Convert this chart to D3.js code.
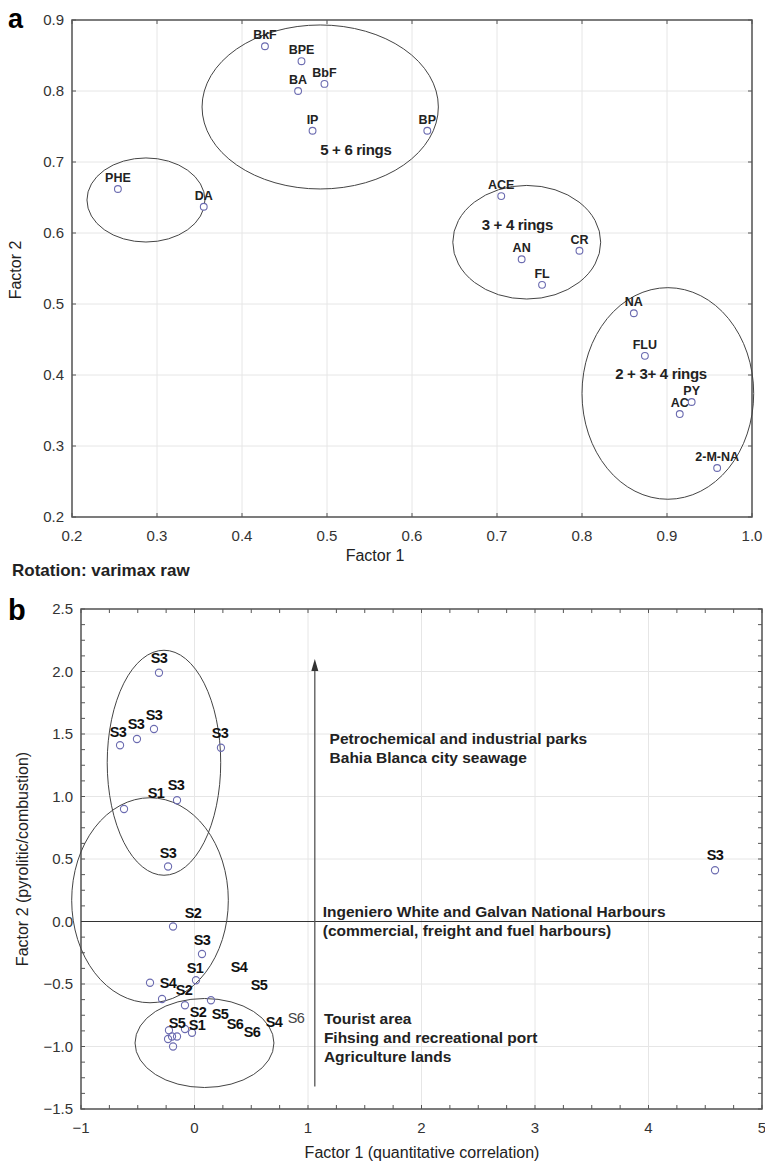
<!DOCTYPE html>
<html>
<head>
<meta charset="utf-8">
<script src="https://cdn.jsdelivr.net/npm/d3@7"></script>
<style>
  body { margin: 0; background: #fff; }
  svg { display: block; font-family: "Liberation Sans", Arial, sans-serif; }
</style>
</head>
<body>
<svg id="chart" width="765" height="1169"></svg>
<script>
// ---- panel a: PAH loadings ----
const pahNames = ["BkF", "BPE", "BA", "BbF", "IP", "BP", "PHE", "DA", "ACE", "AN", "CR", "FL", "NA", "FLU", "PY", "AC", "2-M-NA"];
const pahF1 = [0.427, 0.470, 0.466, 0.497, 0.483, 0.618, 0.254, 0.355, 0.705, 0.729, 0.797, 0.753, 0.861, 0.874, 0.929, 0.915, 0.959];
const pahF2 = [0.863, 0.842, 0.800, 0.810, 0.744, 0.744, 0.662, 0.637, 0.652, 0.563, 0.575, 0.527, 0.487, 0.427, 0.362, 0.345, 0.269];
const aTicksX = [0.2, 0.3, 0.4, 0.5, 0.6, 0.7, 0.8, 0.9, 1.0];
const aTicksY = [0.2, 0.3, 0.4, 0.5, 0.6, 0.7, 0.8, 0.9];
// group ellipses: centre x, centre y, radius x, radius y (data units)
const aGroupCx = [0.287, 0.492, 0.735, 0.901];
const aGroupCy = [0.6465, 0.7775, 0.587, 0.374];
const aGroupRx = [0.0694, 0.139, 0.087, 0.101];
const aGroupRy = [0.0592, 0.1155, 0.080, 0.149];
const aGroupText = ["", "5 + 6 rings", "3 + 4 rings", "2 + 3+ 4 rings"];
const aGroupTextX = [0, 0.492, 0.682, 0.839];
const aGroupTextY = [0, 0.71, 0.604, 0.394];

// ---- panel b: sample scores ----
const siteF1 = [-0.313, -0.656, -0.507, -0.357, 0.233, -0.621, -0.154, -0.233, 4.586,
  -0.189, 0.066, 0.013, -0.392, -0.286, -0.084, 0.145,
  -0.022, -0.084, -0.225, -0.198, -0.233, -0.189, -0.154];
const siteF2 = [1.99, 1.41, 1.46, 1.54, 1.39, 0.90, 0.97, 0.44, 0.41,
  -0.04, -0.26, -0.47, -0.49, -0.62, -0.67, -0.63,
  -0.89, -0.86, -0.87, -0.92, -0.94, -1.00, -0.92];
const siteLabels = ["S3", "S3", "S3", "S3", "S3", "S1", "S3", "S3", "S3",
  "S2", "S3", "S1", "S4", "S4", "S2", "S5",
  "S5", "S2", "S1", "S5", "S6", "S6", "S4", "S6"];
const siteLabelX = [-0.313, -0.674, -0.515, -0.357, 0.225, -0.339, -0.163, -0.233, 4.586,
  -0.013, 0.066, 0.004, 0.392, -0.233, -0.092, 0.568,
  -0.154, 0.031, 0.022, 0.225, 0.357, 0.507, 0.700, 0.894];
const siteLabelY = [2.11, 1.52, 1.58, 1.65, 1.51, 1.03, 1.09, 0.55, 0.53,
  0.07, -0.15, -0.37, -0.36, -0.49, -0.55, -0.51,
  -0.81, -0.72, -0.83, -0.74, -0.82, -0.88, -0.80, -0.77];
const siteLabelGrey = [false, false, false, false, false, false, false, false, false,
  false, false, false, false, false, false, false,
  false, false, false, false, false, false, false, true];
const bTicksX = [-1, 0, 1, 2, 3, 4, 5];
const bTicksY = [-1.5, -1.0, -0.5, 0.0, 0.5, 1.0, 1.5, 2.0, 2.5];
const bGroupCx = [-0.269, -0.392, 0.088];
const bGroupCy = [1.27, 0.17, -0.972];
const bGroupRx = [0.50, 0.69, 0.612];
const bGroupRy = [0.90, 0.82, 0.356];
const sourceText = [
  ["Petrochemical and industrial parks", "Bahia Blanca city seawage"],
  ["Ingeniero White and Galvan National Harbours", "(commercial, freight and fuel harbours)"],
  ["Tourist area", "Fihsing and recreational port", "Agriculture lands"]
];
const sourceX = [1.19, 1.13, 1.14];
const sourceY = [1.42, 0.04, -0.82];
const arrowX = 1.06, arrowTop = 2.1, arrowBottom = -1.32;

const svg = d3.select("#chart");
svg.append("rect").attr("width", 765).attr("height", 1169).attr("fill", "#fff");

const axisColor = "#555";
const gridColor = "#e6e6e6";
const circleColor = "#6b6bb0";

function frame(g, x, y, ticksX, ticksY, fmtX, fmtY, minorX, minorY) {
  const [x0, x1] = x.range();
  const [y0, y1] = y.range();
  // grid
  g.append("g").selectAll("line").data(ticksX).join("line")
    .attr("x1", d => x(d)).attr("x2", d => x(d)).attr("y1", y0).attr("y2", y1)
    .attr("stroke", gridColor);
  g.append("g").selectAll("line").data(ticksY).join("line")
    .attr("y1", d => y(d)).attr("y2", d => y(d)).attr("x1", x0).attr("x2", x1)
    .attr("stroke", gridColor);
  // inward ticks on all four sides
  const tx = minorX || ticksX, ty = minorY || ticksY;
  g.append("g").selectAll("path").data(tx).join("path")
    .attr("d", d => `M${x(d)},${y0}v-4M${x(d)},${y1}v4`)
    .attr("stroke", axisColor);
  g.append("g").selectAll("path").data(ty).join("path")
    .attr("d", d => `M${x0},${y(d)}h4M${x1},${y(d)}h-4`)
    .attr("stroke", axisColor);
  g.append("rect")
    .attr("x", x0).attr("y", y1).attr("width", x1 - x0).attr("height", y0 - y1)
    .attr("fill", "none").attr("stroke", axisColor).attr("stroke-width", 1.5);
  // tick labels
  g.append("g").selectAll("text").data(ticksX).join("text")
    .attr("x", d => x(d)).attr("y", y0 + 24)
    .attr("text-anchor", "middle").attr("font-size", 15).attr("fill", "#333")
    .text(fmtX);
  g.append("g").selectAll("text").data(ticksY).join("text")
    .attr("x", x0 - 8).attr("y", d => y(d) + 5)
    .attr("text-anchor", "end").attr("font-size", 15).attr("fill", "#333")
    .text(fmtY);
}

// ================= panel a =================
const xa = d3.scaleLinear().domain([0.2, 1.0]).range([72, 752]);
const ya = d3.scaleLinear().domain([0.2, 0.9]).range([517, 20]);
const ga = svg.append("g");
frame(ga, xa, ya, aTicksX, aTicksY, d3.format(".1f"), d3.format(".1f"));

ga.append("g").selectAll("ellipse").data(aGroupCx).join("ellipse")
  .attr("cx", d => xa(d)).attr("cy", (d, i) => ya(aGroupCy[i]))
  .attr("rx", (d, i) => xa(d + aGroupRx[i]) - xa(d))
  .attr("ry", (d, i) => ya(aGroupCy[i] - aGroupRy[i]) - ya(aGroupCy[i]))
  .attr("fill", "none").attr("stroke", "#444").attr("stroke-width", 1);

ga.append("g").selectAll("text").data(aGroupText).join("text")
  .attr("x", (d, i) => xa(aGroupTextX[i])).attr("y", (d, i) => ya(aGroupTextY[i]))
  .attr("font-size", 15).attr("font-weight", "bold").attr("fill", "#222")
  .attr("letter-spacing", -0.3)
  .text(d => d);

ga.append("g").selectAll("circle").data(pahF1).join("circle")
  .attr("cx", d => xa(d)).attr("cy", (d, i) => ya(pahF2[i])).attr("r", 3.4)
  .attr("fill", "#fff").attr("stroke", circleColor).attr("stroke-width", 1.1);

ga.append("g").selectAll("text").data(pahNames).join("text")
  .attr("x", (d, i) => xa(pahF1[i])).attr("y", (d, i) => ya(pahF2[i]) - 7)
  .attr("text-anchor", "middle").attr("font-size", 12.5).attr("font-weight", "bold")
  .attr("fill", "#222").text(d => d);

svg.append("text").attr("x", 8).attr("y", 28)
  .attr("font-size", 27).attr("font-weight", "bold").text("a");
svg.append("text").attr("transform", "translate(21,270) rotate(-90)")
  .attr("text-anchor", "middle").attr("font-size", 16).attr("fill", "#222").text("Factor 2");
svg.append("text").attr("x", 375).attr("y", 561)
  .attr("text-anchor", "middle").attr("font-size", 16).attr("fill", "#222").text("Factor 1");
svg.append("text").attr("x", 12).attr("y", 576)
  .attr("font-size", 17).attr("font-weight", "bold").attr("fill", "#222")
  .text("Rotation: varimax raw");

// ================= panel b =================
const xb = d3.scaleLinear().domain([-1, 5]).range([81, 762]);
const yb = d3.scaleLinear().domain([-1.5, 2.5]).range([1109, 609]);
const gb = svg.append("g");
frame(gb, xb, yb, bTicksX, bTicksY, d3.format("d"), d3.format(".1f"),
  d3.range(-1, 5.001, 0.25), d3.range(-1.5, 2.5001, 0.125));

// zero line
gb.append("line")
  .attr("x1", xb(-1)).attr("x2", xb(5)).attr("y1", yb(0)).attr("y2", yb(0))
  .attr("stroke", "#333").attr("stroke-width", 1.2);

// arrow
gb.append("line")
  .attr("x1", xb(arrowX)).attr("x2", xb(arrowX))
  .attr("y1", yb(arrowBottom)).attr("y2", yb(arrowTop) + 8)
  .attr("stroke", "#555").attr("stroke-width", 1.3);
gb.append("path")
  .attr("d", `M${xb(arrowX)},${yb(arrowTop)}l-3.5,12h7z`)
  .attr("fill", "#333");

gb.append("g").selectAll("ellipse").data(bGroupCx).join("ellipse")
  .attr("cx", d => xb(d)).attr("cy", (d, i) => yb(bGroupCy[i]))
  .attr("rx", (d, i) => xb(d + bGroupRx[i]) - xb(d))
  .attr("ry", (d, i) => yb(bGroupCy[i] - bGroupRy[i]) - yb(bGroupCy[i]))
  .attr("fill", "none").attr("stroke", "#444").attr("stroke-width", 1);

gb.append("g").selectAll("circle").data(siteF1).join("circle")
  .attr("cx", d => xb(d)).attr("cy", (d, i) => yb(siteF2[i])).attr("r", 3.6)
  .attr("fill", "none").attr("stroke", circleColor).attr("stroke-width", 1.1);

gb.append("g").selectAll("text").data(siteLabels).join("text")
  .attr("x", (d, i) => xb(siteLabelX[i])).attr("y", (d, i) => yb(siteLabelY[i]) + 5)
  .attr("text-anchor", "middle").attr("font-size", 14.5)
  .attr("font-weight", (d, i) => siteLabelGrey[i] ? "normal" : "bold")
  .attr("letter-spacing", -0.6)
  .attr("fill", (d, i) => siteLabelGrey[i] ? "#444" : "#111")
  .text(d => d);

sourceText.forEach((lines, k) => {
  gb.append("text")
    .attr("x", xb(sourceX[k])).attr("y", yb(sourceY[k]))
    .attr("font-size", 15.5).attr("font-weight", "bold").attr("fill", "#222")
    .selectAll("tspan").data(lines).join("tspan")
    .attr("x", xb(sourceX[k])).attr("dy", (d, i) => i === 0 ? 0 : 19)
    .text(d => d);
});

svg.append("text").attr("x", 8).attr("y", 620)
  .attr("font-size", 29).attr("font-weight", "bold").text("b");
svg.append("text").attr("transform", "translate(28,859) rotate(-90)")
  .attr("text-anchor", "middle").attr("font-size", 16).attr("fill", "#222")
  .text("Factor 2 (pyrolitic/combustion)");
svg.append("text").attr("x", 422).attr("y", 1158)
  .attr("text-anchor", "middle").attr("font-size", 16).attr("fill", "#222")
  .text("Factor 1 (quantitative correlation)");
</script>
</body>
</html>
